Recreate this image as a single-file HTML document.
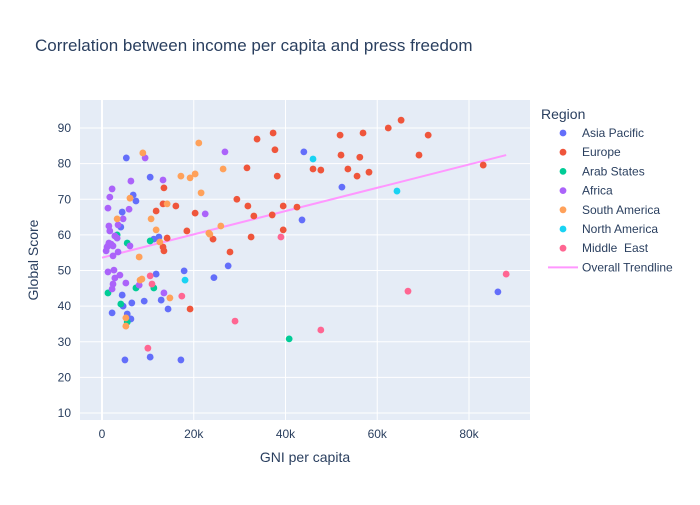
<!DOCTYPE html>
<html><head><meta charset="utf-8"><style>
body{margin:0;background:#fff;font-family:"Liberation Sans",sans-serif}
svg text{font-family:"Liberation Sans",sans-serif;fill:#2a3f5f}
#legend text{white-space:pre}
</style></head><body>
<svg id="c" width="700" height="500" xmlns="http://www.w3.org/2000/svg">
<rect width="700" height="500" fill="#fff"/>
<text x="35" y="51" font-size="17">Correlation between income per capita and press freedom</text>
<rect x="80" y="100" width="450" height="320" fill="#e5ecf6"/>
<g id="grid"></g><g id="trend"></g><g id="pts"></g><g id="ticks"></g>
<text x="305" y="462" font-size="14" text-anchor="middle">GNI per capita</text>
<text transform="translate(38,260) rotate(-90)" font-size="14" text-anchor="middle">Global Score</text>
<g id="legend"><text x="541" y="119" font-size="14">Region</text></g>
</svg>
<script>
const regions=["Asia Pacific","Europe","Arab States","Africa","South America","North America","Middle  East"];
const colors=["#636efa","#EF553B","#00cc96","#ab63fa","#FFA15A","#19d3f3","#FF6692"];
const asiaX=[5.3,10.5,4.4,6.8,7.4,4.1,11.3,12.4,44,52.3,43.6,24.4,27.5,86.3,4.4,11.8,17.9,12.9,9.2,6.5,4.6,14.4,2.2,5.5,6.3,10.5,5,17.2];
const asiaY=[81.6,76.2,66.4,71.2,69.5,62.2,58.8,59.4,83.3,73.4,64.2,48,51.3,44,43.1,49,49.9,41.7,41.4,40.9,40,39.2,38.1,37.8,36.4,25.7,24.9,24.9];
const euX=[37.3,33.8,37.7,31.6,38.2,29.4,31.8,33.1,39.5,42.5,37.1,39.5,32.5,24.2,27.9,51.9,56.9,62.4,65.2,71.1,52.1,56.2,69.1,46,47.7,53.6,55.6,58.2,83.1,13.5,13.3,16.1,11.8,20.3,18.5,14.2,13.3,13.5,19.2];
const euY=[88.6,86.9,83.9,78.8,76.5,70,68.1,65.3,68.1,67.8,65.6,61.4,59.4,58.8,55.2,88,88.6,90,92.2,88,82.4,81.8,82.4,78.5,78.2,78.5,76.5,77.6,79.6,73.2,68.7,68.1,66.7,66.1,61.1,59.1,56.6,55.5,39.2];
const arabX=[40.8,3.3,5.5,10.5,1.3,7.4,11.3,4.1,5.5];
const arabY=[30.8,60,57.7,58.3,43.7,45.1,45.1,40.6,35.5];
const afX=[26.8,22.5,9.4,6.3,13.3,2.2,1.7,1.3,5.9,4.6,3.5,1.5,1.7,2.8,3.3,6.1,1.5,2.4,1.1,1.3,2,0.9,2.4,3.5,1.3,2.6,3.9,2.8,5.2,2.4,2.2,8.1,13.5];
const afY=[83.3,65.9,81.6,75.1,75.4,72.9,70.6,67.5,67.2,64.5,62.8,62.5,61.1,59.7,59.1,56.9,57.7,56.9,56.6,56.9,57.4,55.5,54.1,55.2,49.6,50.1,48.7,47.9,46.5,46.2,44.8,45.9,43.7];
const saX=[21.1,26.4,21.6,25.9,23.5,8.9,17.2,19.2,20.3,6.1,14.2,10.7,3.3,11.8,12.6,23.3,8.1,8.3,8.7,14.8,5.2,5.2];
const saY=[85.8,78.5,71.8,62.5,60.2,83,76.5,76,77.1,70.3,68.7,64.5,64.5,61.4,58,60.5,53.8,47.3,47.6,42.3,36.7,34.4];
const naX=[46,64.3,18.1];
const naY=[81.3,72.3,47.3];
const meX=[39,88.1,66.7,29,47.7,10.5,10.9,17.4,10];
const meY=[59.4,49,44.2,35.8,33.3,48.5,46.2,42.8,28.2];
const seriesX=[asiaX,euX,arabX,afX,saX,naX,meX];
const seriesY=[asiaY,euY,arabY,afY,saY,naY,meY];
const trendX=[0,88.1];
const trendY=[53.6,82.4];
const xTicks=[0,20,40,60,80];
const xTickLabels=["0","20k","40k","60k","80k"];
const yTicks=[10,20,30,40,50,60,70,80,90];
const NS="http://www.w3.org/2000/svg";
const X=v=>102+v*4.5875;
const Y=v=>413-(v-10)*3.5625;
function mk(tag,attrs,parent){const e=document.createElementNS(NS,tag);for(const k in attrs)e.setAttribute(k,attrs[k]);document.getElementById(parent).appendChild(e);return e;}
yTicks.forEach(t=>{
 const l=mk('line',{x1:80,x2:530,y1:Y(t),y2:Y(t),stroke:'#fff','stroke-width':1},'grid');
 
 
 const tx=mk('text',{x:71,y:Y(t)+4,'font-size':12,'text-anchor':'end'},'ticks');tx.textContent=t;
 
 
});
xTicks.forEach((t,i)=>{
 const l=mk('line',{x1:X(t),x2:X(t),y1:100,y2:420,stroke:'#fff','stroke-width':t===0?2:1},'grid');
 
 
 const tx=mk('text',{x:X(t),y:438,'font-size':12,'text-anchor':'middle'},'ticks');tx.textContent=xTickLabels[i];
 
 
});
const tl=mk('line',{x1:X(trendX[0]),y1:Y(trendY[0]),x2:X(trendX[1]),y2:Y(trendY[1]),stroke:'#FF97FF','stroke-width':2},'trend');


seriesX.forEach((xs,s)=>{
 xs.forEach((x,i)=>{
  const c=mk('circle',{cx:X(x),cy:Y(seriesY[s][i]),r:3.4,fill:colors[s]},'pts');
  
  
 });
});
regions.forEach((r,i)=>{
 const y=133+i*19.2;
 const c=mk('circle',{cx:563,cy:y,r:3.4,fill:colors[i]},'legend');
 
 
 const t=mk('text',{x:582,y:y+4,'font-size':12},'legend');t.textContent=r;
 
 
});
const ly=133+7*19.2;
const ll=mk('line',{x1:548,x2:578,y1:ly,y2:ly,stroke:'#FF97FF','stroke-width':2},'legend');


const lt=mk('text',{x:582,y:ly+4,'font-size':12},'legend');lt.textContent='Overall Trendline';


</script>
</body></html>
